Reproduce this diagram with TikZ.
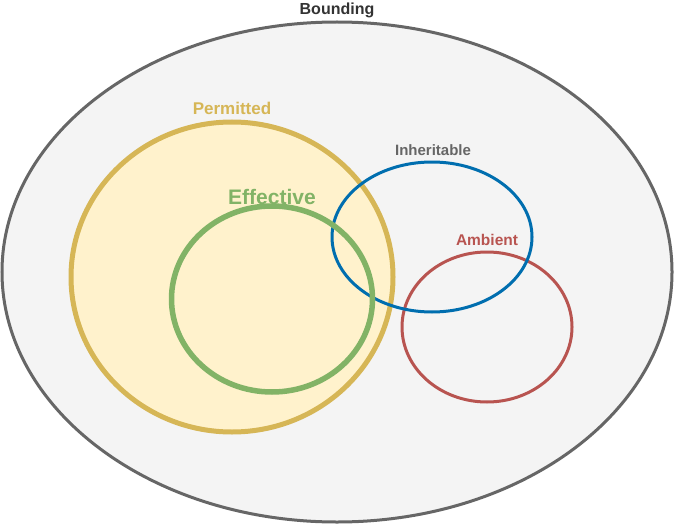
\documentclass[tikz,border=0pt]{standalone}
\usepackage{fontspec}
\setmainfont{Liberation Sans}
\usepackage{xcolor}
\usetikzlibrary{shapes.geometric}

\definecolor{boundgray}{HTML}{666666}
\definecolor{boundfill}{HTML}{F4F4F4}
\definecolor{permgold}{HTML}{D6B656}
\definecolor{permfill}{HTML}{FFF2CC}
\definecolor{effgreen}{HTML}{82B366}
\definecolor{inhblue}{HTML}{006EAF}
\definecolor{ambred}{HTML}{B85450}

\tikzset{
  capset/.style={ellipse, inner sep=0pt, outer sep=0pt},
  caplabel/.style={font=\bfseries\fontsize{16}{18}\selectfont, inner sep=0pt}
}

\begin{document}
\begin{tikzpicture}[x=1pt,y=-1pt]
\useasboundingbox (0,0) rectangle (674,524);
\node [capset,draw=boundgray,fill=boundfill,line width=3pt,minimum width=670pt,minimum height=500pt] (bounding) at (337,272) {};
\node [capset,draw=permgold,fill=permfill,line width=5pt,minimum width=322pt,minimum height=310pt] (permitted) at (232,277) {};
\node [capset,draw=ambred,line width=3pt,minimum width=170pt,minimum height=150pt] (ambient) at (487,327) {};
\node [capset,draw=inhblue,line width=3pt,minimum width=200pt,minimum height=150pt] (inheritable) at (432,237) {};
\node [capset,draw=effgreen,line width=5.5pt,minimum width=201pt,minimum height=186pt] (effective) at (272,299) {};
% labels
\node [caplabel,text=black!80] (boundinglbl) at (337,10) {Bounding};
\node [caplabel,text=permgold,font=\bfseries\fontsize{17}{20}\selectfont] (permittedlbl) at (232,108) {Permitted};
\node [caplabel,text=effgreen,font=\bfseries\fontsize{21}{24}\selectfont] (effectivelbl) at (272,197) {Effective};
\node [caplabel,text=boundgray,font=\bfseries\fontsize{15}{18}\selectfont] (inheritablelbl) at (433,150) {Inheritable};
\node [caplabel,text=ambred,font=\bfseries\fontsize{15.5}{18}\selectfont] (ambientlbl) at (487,240) {Ambient};
\end{tikzpicture}
\end{document}
